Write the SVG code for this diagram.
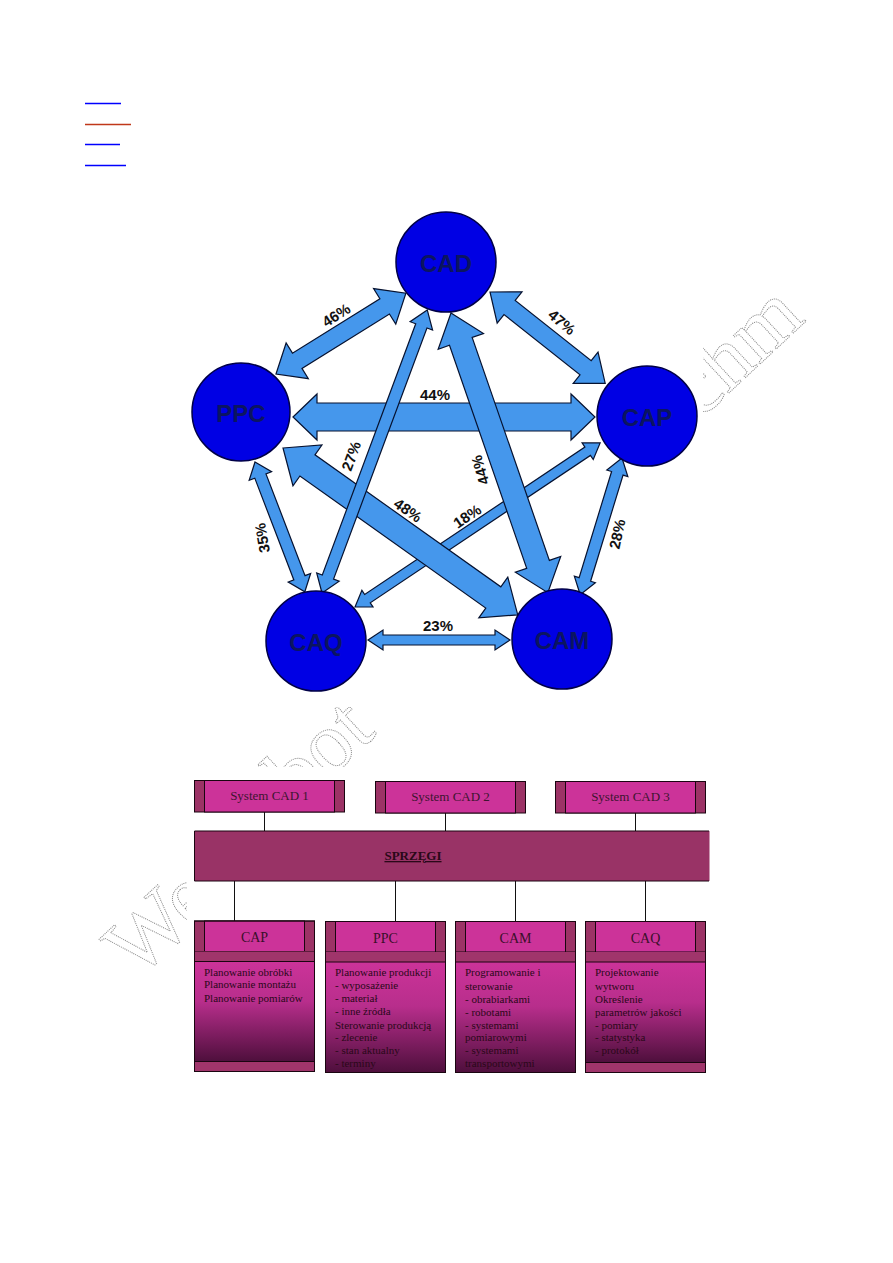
<svg xmlns="http://www.w3.org/2000/svg" width="893" height="1263" viewBox="0 0 893 1263">
<defs>
<style>
.arrow{fill:#4597EC;stroke:#061230;stroke-width:1.2;stroke-linejoin:miter}
.circle{fill:#0000E4;stroke:#000048;stroke-width:1.5}
.ctext{font-family:"Liberation Sans",Arial,sans-serif;font-weight:bold;font-size:24px;fill:#0B1560;text-anchor:middle;dominant-baseline:central}
.pct{font-family:"Liberation Sans",Arial,sans-serif;font-weight:bold;font-size:15px;fill:#111;text-anchor:middle;dominant-baseline:central}
.side{fill:#9C3366;stroke:#1a0510;stroke-width:1}
.inner{fill:#CC3399;stroke:#1a0510;stroke-width:1}
.band{fill:#A0356B}
.body{fill:url(#bodyGrad)}
.outline{fill:none;stroke:#1a0510;stroke-width:1}
.stext{font-family:"Liberation Serif","Times New Roman",serif;font-size:13px;fill:#3D1530;text-anchor:middle}
.htext{font-family:"Liberation Serif","Times New Roman",serif;font-size:14px;fill:#3A0F2A;text-anchor:middle}
.btext{font-family:"Liberation Serif","Times New Roman",serif;font-size:11px;fill:#2A0818}
.conn{stroke:#111;stroke-width:1;fill:none}
.wm{font-family:"Liberation Serif","Times New Roman",serif;font-size:85px;fill:none;stroke:#8a8a8a;stroke-width:1;stroke-dasharray:1 1}
</style>
<linearGradient id="bodyGrad" x1="0" y1="0" x2="0" y2="1">
<stop offset="0" stop-color="#CC3399"/>
<stop offset="0.4" stop-color="#B82E8C"/>
<stop offset="1" stop-color="#4E0F3C"/>
</linearGradient>
</defs>
<rect width="893" height="1263" fill="#fff"/>

<!-- top-left link underlines -->
<g id="links">
<line x1="85" y1="103.5" x2="121" y2="103.5" stroke="#0000FF" stroke-width="1.3"/>
<line x1="85" y1="124.5" x2="131" y2="124.5" stroke="#C0381A" stroke-width="1.3"/>
<line x1="85" y1="144.5" x2="120" y2="144.5" stroke="#0000FF" stroke-width="1.3"/>
<line x1="85" y1="165.5" x2="126" y2="165.5" stroke="#0000FF" stroke-width="1.3"/>
</g>

<!-- watermark fragments -->
<g id="watermark">
<text class="wm" transform="translate(137,980) rotate(-43)">We</text>
<text class="wm" transform="translate(298,808) rotate(-43)">bot</text>
<text class="wm" transform="translate(700,420) rotate(-43)">chm</text>
</g>
<rect x="180" y="200" width="523" height="507" fill="#fff"/>
<rect x="187" y="767" width="528" height="313" fill="#fff"/>

<!-- pentagon connectors -->
<g id="connectors">
<polygon class="arrow" points="0,0 15,-10 15,-5 280,-5 280,-10 295,0 280,10 280,5 15,5 15,10" transform="translate(355,607) rotate(-33.8)"/>
<polygon class="arrow" points="0,0 30,-25 30,-13 258,-13 258,-25 288,0 258,25 258,13 30,13 30,25" transform="translate(283,448) rotate(35.4)"/>
<polygon class="arrow" points="0,0 24,-23 24,-14 278,-14 278,-23 302,0 278,23 278,14 24,14 24,23" transform="translate(293,417)"/>
<polygon class="arrow" points="0,0 17,-12 17,-6 285,-6 285,-12 302,0 285,12 285,6 17,6 17,12" transform="translate(322,593) rotate(-69.6)"/>
<polygon class="arrow" points="0,0 30,-24 30,-12 266,-12 266,-24 296,0 266,24 266,12 30,12 30,24" transform="translate(451,313) rotate(70.9)"/>
<polygon class="arrow" points="0,0 25,-21 25,-9 128,-9 128,-21 153,0 128,21 128,9 25,9 25,21" transform="translate(276,374) rotate(-31.9)"/>
<polygon class="arrow" points="0,0 25,-20 25,-9 122,-9 122,-20 147,0 122,20 122,9 25,9 25,20" transform="translate(490,292) rotate(38.4)"/>
<polygon class="arrow" points="0,0 15,-12 15,-6 124,-6 124,-12 139,0 124,12 124,6 15,6 15,12" transform="translate(255,462) rotate(69)"/>
<polygon class="arrow" points="0,0 16,-11 16,-6 127,-6 127,-11 143,0 127,11 127,6 16,6 16,11" transform="translate(622,458) rotate(107)"/>
<polygon class="arrow" points="0,0 15,-10 15,-5 127,-5 127,-10 142,0 127,10 127,5 15,5 15,10" transform="translate(368,640)"/>
<text class="pct" transform="translate(336,315) rotate(-33)">46%</text>
<text class="pct" transform="translate(562,322) rotate(40)">47%</text>
<text class="pct" transform="translate(435,394)">44%</text>
<text class="pct" transform="translate(480,470) rotate(-106)">44%</text>
<text class="pct" transform="translate(351,456) rotate(-70)">27%</text>
<text class="pct" transform="translate(408,510) rotate(35)">48%</text>
<text class="pct" transform="translate(467,516) rotate(-34)">18%</text>
<text class="pct" transform="translate(262,538) rotate(-100)">35%</text>
<text class="pct" transform="translate(617,534) rotate(-78)">28%</text>
<text class="pct" transform="translate(438,625)">23%</text>
</g>

<g id="node-CAD"><circle class="circle" cx="446" cy="262" r="50"/><text class="ctext" x="446" y="263">CAD</text></g>
<g id="node-PPC"><circle class="circle" cx="241" cy="412" r="49"/><text class="ctext" x="241" y="413">PPC</text></g>
<g id="node-CAP"><circle class="circle" cx="647" cy="416" r="50"/><text class="ctext" x="647" y="417">CAP</text></g>
<g id="node-CAQ"><circle class="circle" cx="316" cy="641" r="50"/><text class="ctext" x="316" y="642">CAQ</text></g>
<g id="node-CAM"><circle class="circle" cx="562" cy="639" r="50"/><text class="ctext" x="562" y="640">CAM</text></g>

<!-- bottom block diagram connectors -->
<g id="block-connectors">
<line class="conn" x1="264.5" y1="812" x2="264.5" y2="831"/>
<line class="conn" x1="445.5" y1="813" x2="445.5" y2="831"/>
<line class="conn" x1="635.5" y1="813" x2="635.5" y2="831"/>
<line class="conn" x1="234.5" y1="881" x2="234.5" y2="921"/>
<line class="conn" x1="395.5" y1="881" x2="395.5" y2="922"/>
<line class="conn" x1="515.5" y1="881" x2="515.5" y2="922"/>
<line class="conn" x1="645.5" y1="881" x2="645.5" y2="922"/>
</g>

<g id="sys-cad-1">
<rect class="side" x="194.5" y="780.5" width="150" height="31.5"/>
<rect class="inner" x="204.5" y="780.5" width="130" height="31.5"/>
<text class="stext" x="269.5" y="800">System CAD 1</text>
</g>
<g id="sys-cad-2">
<rect class="side" x="375.5" y="781.5" width="150" height="31.5"/>
<rect class="inner" x="385.5" y="781.5" width="130" height="31.5"/>
<text class="stext" x="450.5" y="801">System CAD 2</text>
</g>
<g id="sys-cad-3">
<rect class="side" x="555.5" y="781.5" width="150" height="31.5"/>
<rect class="inner" x="565.5" y="781.5" width="130" height="31.5"/>
<text class="stext" x="630.5" y="801">System CAD 3</text>
</g>

<g id="sprzegi">
<rect x="194.5" y="831" width="515" height="50" fill="#993366"/>
<path d="M709,831 H194.5 V881 H709" class="outline"/>
<text x="413" y="860" font-family="'Liberation Serif','Times New Roman',serif" font-size="13" font-weight="bold" fill="#2A0818" text-anchor="middle" text-decoration="underline">SPRZĘGI</text>
</g>

<g id="box-CAP">
<rect class="side" x="194.5" y="921" width="120" height="30.5"/>
<rect class="inner" x="204.5" y="921" width="100" height="30.5"/>
<rect class="band" x="194.5" y="951.5" width="120" height="10"/>
<rect class="body" x="194.5" y="961.5" width="120" height="100"/>
<rect class="band" x="194.5" y="1061.5" width="120" height="10"/>
<rect class="outline" x="194.5" y="921" width="120" height="150.5"/>
<line class="outline" x1="194.5" y1="961.5" x2="314.5" y2="961.5"/>
<line class="outline" x1="194.5" y1="1061.5" x2="314.5" y2="1061.5"/>
<text class="htext" x="254.5" y="942">CAP</text>
<text class="btext" x="204" y="976">Planowanie obróbki</text>
<text class="btext" x="204" y="988">Planowanie montażu</text>
<text class="btext" x="204" y="1002">Planowanie pomiarów</text>
</g>

<g id="box-PPC">
<rect class="side" x="325.5" y="921.5" width="120" height="30.5"/>
<rect class="inner" x="335.5" y="921.5" width="100" height="30.5"/>
<rect class="band" x="325.5" y="952" width="120" height="10"/>
<rect class="body" x="325.5" y="962" width="120" height="110.5"/>
<rect class="outline" x="325.5" y="921.5" width="120" height="151"/>
<line class="outline" x1="325.5" y1="962" x2="445.5" y2="962"/>
<text class="htext" x="385.5" y="942.5">PPC</text>
<text class="btext" x="335" y="976">Planowanie produkcji</text>
<text class="btext" x="335" y="989"> - wyposażenie</text>
<text class="btext" x="335" y="1002">- materiał</text>
<text class="btext" x="335" y="1014.5"> - inne źródła</text>
<text class="btext" x="335" y="1028.5">Sterowanie produkcją</text>
<text class="btext" x="335" y="1041"> - zlecenie</text>
<text class="btext" x="335" y="1054">- stan aktualny</text>
<text class="btext" x="335" y="1067"> - terminy</text>
</g>

<g id="box-CAM">
<rect class="side" x="455.5" y="921.5" width="120" height="30.5"/>
<rect class="inner" x="465.5" y="921.5" width="100" height="30.5"/>
<rect class="band" x="455.5" y="952" width="120" height="10"/>
<rect class="body" x="455.5" y="962" width="120" height="110.5"/>
<rect class="outline" x="455.5" y="921.5" width="120" height="151"/>
<line class="outline" x1="455.5" y1="962" x2="575.5" y2="962"/>
<text class="htext" x="515.5" y="942.5">CAM</text>
<text class="btext" x="465" y="976">Programowanie i</text>
<text class="btext" x="465" y="989.5">sterowanie</text>
<text class="btext" x="465" y="1003">- obrabiarkami</text>
<text class="btext" x="465" y="1015.5">- robotami</text>
<text class="btext" x="465" y="1028.5">- systemami</text>
<text class="btext" x="465" y="1041">pomiarowymi</text>
<text class="btext" x="465" y="1054">- systemami</text>
<text class="btext" x="465" y="1067">transportowymi</text>
</g>

<g id="box-CAQ">
<rect class="side" x="585.5" y="921.5" width="120" height="30.5"/>
<rect class="inner" x="595.5" y="921.5" width="100" height="30.5"/>
<rect class="band" x="585.5" y="952" width="120" height="10"/>
<rect class="body" x="585.5" y="962" width="120" height="100.5"/>
<rect class="band" x="585.5" y="1062.5" width="120" height="10"/>
<rect class="outline" x="585.5" y="921.5" width="120" height="151"/>
<line class="outline" x1="585.5" y1="962" x2="705.5" y2="962"/>
<line class="outline" x1="585.5" y1="1062.5" x2="705.5" y2="1062.5"/>
<text class="htext" x="645.5" y="942.5">CAQ</text>
<text class="btext" x="595" y="976">Projektowanie</text>
<text class="btext" x="595" y="989.5">wytworu</text>
<text class="btext" x="595" y="1003">Określenie</text>
<text class="btext" x="595" y="1015.5">parametrów jakości</text>
<text class="btext" x="595" y="1028.5">- pomiary</text>
<text class="btext" x="595" y="1041"> - statystyka</text>
<text class="btext" x="595" y="1054">- protokół</text>
</g>
</svg>
